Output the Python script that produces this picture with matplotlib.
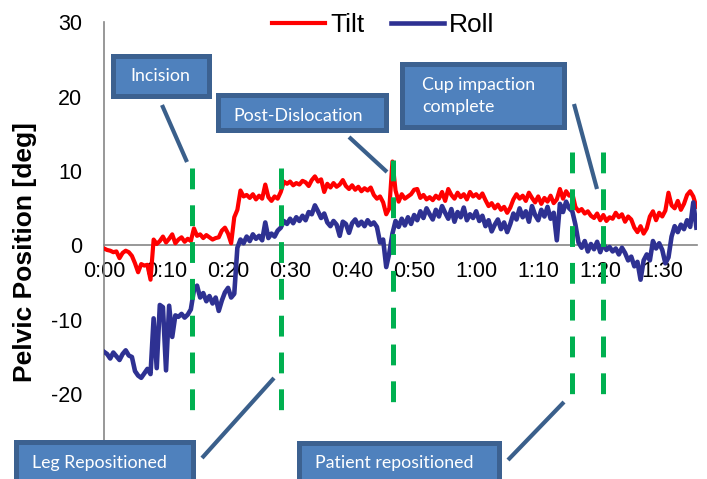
import matplotlib
matplotlib.use("Agg")
import matplotlib.pyplot as plt
from matplotlib.patches import Rectangle
from matplotlib.lines import Line2D
import numpy as np

# ---------------- data ----------------
time_min = [i * 0.5 for i in range(192)]  # 0.0 .. 95.5 minutes

tilt = [
    -0.4, -0.6, -0.7, -0.9, -0.8, -1.7, -1.0, -0.7, -0.9, -1.4,
    -2.4, -3.6, -2.5, -2.7, -2.6, -4.6, 0.8, 0.2, 0.6, 1.2,
    0.4, 0.9, 1.5, 0.3, 0.8, 1.1, 0.5, 0.9, 0.6, 2.3,
    1.3, 1.5, 1.0, 1.4, 1.1, 0.8, 1.0, 1.1, 2.0, 2.4,
    1.6, 0.3, 3.8, 4.8, 7.4, 6.6, 6.8, 6.4, 6.9, 6.2,
    6.7, 6.3, 8.2, 6.5, 6.0, 6.6, 6.3, 7.2, 8.6, 8.3,
    8.6, 8.1, 8.4, 8.2, 8.7, 8.5, 8.0, 8.8, 9.3, 8.6,
    8.9, 7.2, 8.3, 7.8, 8.4, 7.9, 8.2, 8.8, 8.0, 7.6,
    8.1, 7.5, 7.9, 7.3, 7.7, 7.4, 7.8, 6.8, 6.3, 6.6,
    5.8, 4.2, 5.0, 11.3, 7.4, 5.9, 6.9, 6.3, 6.6, 6.9,
    7.5, 7.6, 6.4, 6.8, 6.2, 6.5, 6.1, 6.7, 6.3, 7.2,
    6.0, 7.6, 6.8, 6.3, 7.1, 6.5, 6.9, 6.2, 7.2, 6.6,
    6.9, 6.4, 7.0, 6.1, 5.3, 5.7, 5.0, 5.5, 4.8, 5.2,
    4.4, 5.1, 6.2, 6.9, 6.3, 6.7, 6.0, 7.1, 6.4, 5.8,
    6.6, 5.6, 6.4, 5.9, 6.7, 5.7, 6.2, 7.6, 6.3, 7.3,
    6.7, 7.0, 5.2, 4.6, 4.9, 4.3, 4.6, 4.0, 3.7, 4.3,
    3.4, 4.1, 3.3, 3.8, 3.6, 4.4, 3.8, 4.2, 3.2, 3.9,
    3.5, 2.4, 1.8, 2.6, 1.6, 2.3, 3.9, 4.6, 3.4, 4.4,
    3.9, 4.7, 7.1, 5.4, 5.0, 6.0, 4.8, 5.6, 6.8, 7.3,
    6.6, 5.2,
]

roll = [
    -14.3, -14.6, -15.2, -14.4, -14.9, -15.4, -14.6, -14.1, -14.8, -15.0,
    -16.9, -17.5, -17.8, -17.2, -16.6, -17.3, -9.8, -16.5, -8.0, -8.3,
    -16.8, -8.1, -12.3, -9.4, -9.6, -9.2, -9.7, -9.3, -8.6, -6.0,
    -5.4, -7.0, -6.4, -7.5, -6.8, -7.8, -7.0, -8.8, -7.4, -6.3,
    -5.7, -7.0, -6.5, -0.3, 0.8, 0.3, 1.2, 0.6, 1.5, 0.9,
    1.3, 0.7, 3.1, 1.0, 1.6, 1.2, 2.0, 2.4, 3.3, 2.9,
    3.6, 3.0, 3.8, 3.3, 4.0, 3.4, 4.5, 4.2, 5.4, 4.6,
    3.7, 4.3, 3.1, 2.6, 3.3, 2.8, 1.3, 3.2, 2.9, 1.7,
    3.0, 3.5, 2.7, 3.2, 2.6, 3.4, 2.8, 3.1, 2.5, 0.4,
    0.8, -2.9, -1.0, 1.6, 3.3, 2.5, 3.6, 2.7, 3.8, 2.9,
    4.1, 3.4, 4.6, 3.7, 5.0, 4.2, 3.5, 4.8, 3.9, 5.3,
    4.4, 3.6, 4.9, 3.2, 4.5, 3.8, 5.1, 3.4, 4.2, 3.7,
    4.6, 3.3, 4.0, 2.6, 3.4, 1.9, 2.8, 3.5, 2.2, 3.1,
    1.8, 2.9, 4.3, 3.5, 5.0, 3.8, 4.6, 3.2, 5.3, 4.1,
    3.4, 4.8, 3.9, 5.2, 3.6, 4.4, 0.7, 5.6, 4.5, 5.9,
    5.0, 4.6, 2.8, 0.4, -0.3, 0.6, -0.8, 0.2, -0.5, 0.5,
    -0.9, 0.3, -0.6, -0.2, -0.8, -0.4, -1.2, -0.3, -1.0, -2.0,
    -1.5, -2.8, -2.2, -4.6, -2.0, -1.2, -2.0, 0.6, -0.4, 0.3,
    -0.6, -2.4, -1.6, 1.2, 2.6, 1.8, 2.8, 2.2, 3.4, 2.5,
    5.8, 2.4,
]

series_labels = ["Tilt", "Roll"]
x_ticks = [0, 10, 20, 30, 40, 50, 60, 70, 80, 90]
x_ticklabels = ["0:00", "0:10", "0:20", "0:30", "0:40", "0:50", "1:00", "1:10", "1:20", "1:30"]
y_ticks = [-20, -10, 0, 10, 20, 30]
y_label = "Pelvic Position [deg]"

event_times = [14.2, 28.5, 46.6, 75.5, 80.5]
event_top = [10.4, 10.4, 11.5, 12.6, 12.6]
event_bottom = [-22.1, -22.1, -21.2, -20.3, -20.3]

annotations = ["Incision", "Post-Dislocation", "Cup impaction\ncomplete",
               "Leg Repositioned", "Patient repositioned"]

# ---------------- figure ----------------
W, H = 707, 479
fig = plt.figure(figsize=(W / 100, H / 100), dpi=100)
plt.rcParams['lines.scale_dashes'] = False

def fx(px):
    return px / W

def fy(py):
    return 1 - py / H

ax = fig.add_axes([fx(104), fy(468.5), fx(697) - fx(104), fy(22.5) - fy(468.5)])
ax.set_xlim(0, 95.6)
ax.set_ylim(-30, 30)

ax.plot(time_min, tilt, color="#FF0000", lw=3.0, label=series_labels[0], zorder=3,
        solid_joinstyle="round")
ax.plot(time_min, roll, color="#2E3192", lw=3.3, label=series_labels[1], zorder=4,
        solid_joinstyle="round")

for t, yt, yb in zip(event_times, event_top, event_bottom):
    ax.plot([t, t], [yt, yb], color="#00B050", lw=3.6, dashes=(15, 11.5),
            solid_capstyle="butt", dash_capstyle="butt", zorder=5, clip_on=False)

for s in ["top", "right"]:
    ax.spines[s].set_visible(False)
ax.spines["bottom"].set_position(("data", 0))
for s in ["left", "bottom"]:
    ax.spines[s].set_color("#868686")
    ax.spines[s].set_linewidth(1.2)

ax.set_xticks(x_ticks)
ax.set_xticklabels(x_ticklabels)
ax.set_yticks(y_ticks)
ax.set_yticklabels([str(v) for v in y_ticks])
ax.tick_params(axis="both", length=0, labelsize=15.5)
ax.tick_params(axis="x", pad=11)
ax.tick_params(axis="y", pad=15.5)
for lab in ax.get_xticklabels() + ax.get_yticklabels():
    lab.set_fontfamily("Liberation Sans")

fig.text(fx(25), fy(252), y_label, rotation=90, ha="center", va="center",
         fontsize=19, fontweight="bold", family="Liberation Sans")

handles, labels = ax.get_legend_handles_labels()
leg = fig.legend(handles, labels, loc="center", bbox_to_anchor=(fx(383.5), fy(25)),
                 ncol=2, frameon=False, handlelength=2.0,
                 handletextpad=0.2, columnspacing=1.0, borderpad=0,
                 prop={"family": "Liberation Sans", "size": 19})

# ---------------- annotation boxes ----------------
box_face = "#4F81BD"
box_edge = "#3C6190"
conn_color = "#3A5F8B"

boxes = [
    # (x0, y0, x1, y1, text index, text x, text y, ha)
    (110, 53, 211, 98, 0, 160.5, 76, "center"),
    (215, 93, 388, 132, 1, 298, 116, "center"),
    (400, 61, 566, 129, 2, 422, 96, "left"),
    (13, 439, 195, 490, 3, 99, 463, "center"),
    (296, 440, 501, 490, 4, 394, 463, "center"),
]
lw_px = 5
for x0, y0, x1, y1, ti, tx, ty, ha in boxes:
    r = Rectangle((fx(x0 + lw_px / 2), fy(y1 - lw_px / 2)),
                  fx(x1 - lw_px / 2) - fx(x0 + lw_px / 2),
                  fy(y0 + lw_px / 2) - fy(y1 - lw_px / 2),
                  transform=fig.transFigure, facecolor=box_face,
                  edgecolor=box_edge, lw=lw_px * 0.72, zorder=10, clip_on=False)
    fig.add_artist(r)
    fig.text(fx(tx), fy(ty), annotations[ti], ha=ha, va="center", color="white",
             fontsize=12.8, family="Lato", linespacing=1.4, zorder=11)

connectors = [
    ((162, 105), (187, 162)),
    ((349, 137), (387, 172)),
    ((574, 104), (597, 189)),
    ((202, 458), (274, 378)),
    ((508, 460), (564, 402)),
]
for (xa, ya), (xb, yb) in connectors:
    fig.add_artist(Line2D([fx(xa), fx(xb)], [fy(ya), fy(yb)], transform=fig.transFigure,
                          color=conn_color, lw=3.0, solid_capstyle="butt", zorder=9))

fig.savefig("out.png", dpi=100)
